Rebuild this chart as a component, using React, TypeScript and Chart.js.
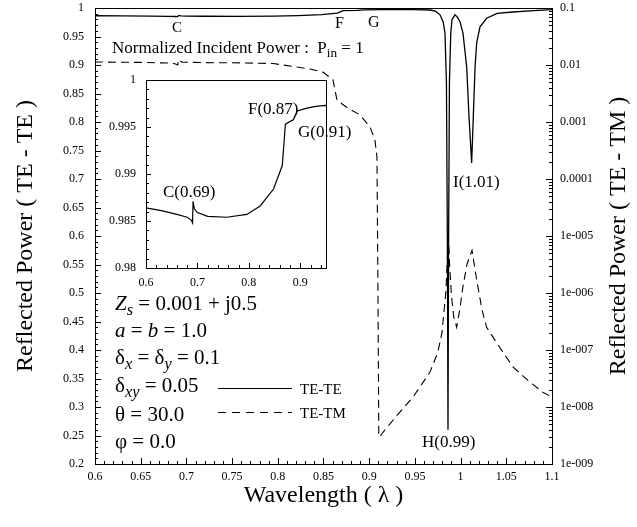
import React, { useEffect, useRef } from 'react';
import { Chart, registerables } from 'chart.js';

Chart.register(...registerables);

const FONT = '"Liberation Serif", "DejaVu Serif", serif';

// ---- Data ----
const teTeWavelength = [
  0.6, 0.63, 0.66, 0.68, 0.688, 0.6905, 0.6915, 0.694, 0.7, 0.72, 0.757, 0.796, 0.822, 0.848,
  0.865, 0.869, 0.871, 0.887, 0.894, 0.913, 0.93, 0.949, 0.9665, 0.9725, 0.9775, 0.981, 0.9829,
  0.9845, 0.9855, 0.9862, 0.9869, 0.9878, 0.9892, 0.9906, 0.9939, 0.9965, 0.9993, 1.0026, 1.0067,
  1.0092, 1.0121, 1.0139, 1.0158, 1.0176, 1.0212, 1.0285, 1.04, 1.057, 1.08, 1.1,
];
const teTePower = [
  0.9864, 0.9861, 0.9857, 0.9854, 0.9851, 0.9848, 0.9871, 0.9863, 0.9859, 0.9855, 0.9854, 0.9857,
  0.9866, 0.9884, 0.9909, 0.9938, 0.9953, 0.9958, 0.9967, 0.997, 0.9972, 0.9973, 0.9965, 0.9945,
  0.988, 0.975, 0.956, 0.87, 0.6, 0.26, 0.6, 0.87, 0.955, 0.98, 0.988, 0.984, 0.976, 0.956, 0.896,
  0.809, 0.728, 0.809, 0.896, 0.939, 0.967, 0.982, 0.9905, 0.993, 0.9955, 0.997,
];
const teTmWavelength = [
  0.6, 0.65, 0.685, 0.6895, 0.6905, 0.6915, 0.695, 0.72, 0.76, 0.795, 0.815, 0.835, 0.8494, 0.8604,
  0.8626, 0.8648, 0.8757, 0.8899, 0.9009, 0.9063, 0.9085, 0.9096, 0.9105, 0.913, 0.9151, 0.93,
  0.948, 0.9665, 0.975, 0.9796, 0.984, 0.9855, 0.9865, 0.988, 0.99, 0.9925, 0.9957, 0.999, 1.0026,
  1.007, 1.0125, 1.0176, 1.0235, 1.0285, 1.0395, 1.0575, 1.075, 1.0903, 1.1,
];
const teTmPower = [
  1.13e-2, 1.11e-2, 1.08e-2, 1.02e-2, 1.0e-2, 1.25e-2, 1.12e-2, 1.1e-2, 1.09e-2, 1.06e-2, 9.5e-3,
  8.5e-3, 7.5e-3, 5.5e-3, 3.6e-3, 2.4e-3, 1.8e-3, 1.33e-3, 8.2e-4, 4.8e-4, 2.4e-4, 1e-6, 3e-9,
  3.2e-9, 3.6e-9, 7e-9, 1.5e-8, 4.1e-8, 9e-8, 2e-7, 1.1e-6, 4e-6, 1.1e-5, 3e-6, 9e-7, 3.8e-7,
  2.5e-7, 5e-7, 1.3e-6, 3.2e-6, 5.6e-6, 1.7e-6, 5e-7, 2.5e-7, 1.33e-7, 5e-8, 2.8e-8, 1.8e-8, 1.5e-8,
];

// ---- Tick values / labels ----
const xTickValues = [0.6, 0.65, 0.7, 0.75, 0.8, 0.85, 0.9, 0.95, 1, 1.05, 1.1];
const xTickLabels = ['0.6', '0.65', '0.7', '0.75', '0.8', '0.85', '0.9', '0.95', '1', '1.05', '1.1'];
const leftTickValues = [0.2, 0.25, 0.3, 0.35, 0.4, 0.45, 0.5, 0.55, 0.6, 0.65, 0.7, 0.75, 0.8, 0.85, 0.9, 0.95, 1];
const leftTickLabels = ['0.2', '0.25', '0.3', '0.35', '0.4', '0.45', '0.5', '0.55', '0.6', '0.65', '0.7', '0.75', '0.8', '0.85', '0.9', '0.95', '1'];
const rightTickValues = [1e-9, 1e-8, 1e-7, 1e-6, 1e-5, 1e-4, 1e-3, 1e-2, 1e-1];
const rightTickLabels = ['1e-009', '1e-008', '1e-007', '1e-006', '1e-005', '0.0001', '0.001', '0.01', '0.1'];
const insetXTickValues = [0.6, 0.7, 0.8, 0.9];
const insetXTickLabels = ['0.6', '0.7', '0.8', '0.9'];
const insetYTickValues = [0.98, 0.985, 0.99, 0.995, 1];
const insetYTickLabels = ['0.98', '0.985', '0.99', '0.995', '1'];

const leftTitle = 'Reflected Power ( TE - TE )';
const rightTitle = 'Reflected Power ( TE - TM )';
const xTitle = 'Wavelength ( λ )';

function range(start: number, end: number, step: number) {
  const out: number[] = [];
  const n = Math.round((end - start) / step);
  for (let i = 0; i <= n; i++) out.push(+(start + i * step).toFixed(6));
  return out;
}
function logMinors(fromExp: number, toExp: number) {
  const out: number[] = [];
  for (let k = fromExp; k < toExp; k++) for (let m = 2; m <= 9; m++) out.push(m * Math.pow(10, k));
  return out;
}

type TickSpec = { scale: string; side: 'bottom' | 'left' | 'right'; major: number[]; minor: number[]; majorLen: number; minorLen: number };

function makeTickPlugin(specs: TickSpec[]) {
  return {
    id: 'inwardTicks',
    afterDraw(chart: any) {
      const { ctx, chartArea: a } = chart;
      ctx.save();
      ctx.strokeStyle = '#000';
      ctx.lineWidth = 1;
      ctx.beginPath();
      for (const s of specs) {
        const sc = chart.scales[s.scale];
        const draw = (v: number, len: number) => {
          const p = Math.round(sc.getPixelForValue(v)) + 0.5;
          if (s.side === 'bottom') { ctx.moveTo(p, a.bottom); ctx.lineTo(p, a.bottom - len); }
          else if (s.side === 'left') { ctx.moveTo(a.left, p); ctx.lineTo(a.left + len, p); }
          else { ctx.moveTo(a.right, p); ctx.lineTo(a.right - len, p); }
        };
        s.minor.forEach((v) => draw(v, s.minorLen));
        s.major.forEach((v) => draw(v, s.majorLen));
      }
      ctx.stroke();
      ctx.strokeRect(Math.round(a.left) + 0.5, Math.round(a.top) + 0.5, Math.round(a.right - a.left), Math.round(a.bottom - a.top));
      ctx.restore();
    },
  };
}

type Run = { t: string; i?: boolean; sub?: boolean; b?: boolean };
function drawRuns(ctx: CanvasRenderingContext2D, runs: Run[], x: number, y: number, size: number) {
  let cx = x;
  for (const r of runs) {
    const s = r.sub ? size * 0.78 : size;
    ctx.font = `${r.i ? 'italic ' : ''}${r.b ? 'bold ' : ''}${s}px ${FONT}`;
    ctx.fillText(r.t, cx, y + (r.sub ? size * 0.22 : 0));
    cx += ctx.measureText(r.t).width;
  }
}

const mainTextPlugin = {
  id: 'mainText',
  afterDraw(chart: any) {
    const ctx: CanvasRenderingContext2D = chart.ctx;
    ctx.save();
    ctx.fillStyle = '#000';
    ctx.strokeStyle = '#000';
    ctx.textAlign = 'left';
    ctx.textBaseline = 'alphabetic';
    drawRuns(ctx, [{ t: 'C' }], 172, 32, 15);
    drawRuns(ctx, [{ t: 'F' }], 335, 28, 16);
    drawRuns(ctx, [{ t: 'G' }], 368, 27, 16);
    drawRuns(ctx, [{ t: 'Normalized Incident Power :  P' }, { t: 'in', sub: true }, { t: ' = 1' }], 112, 53, 17);
    drawRuns(ctx, [{ t: 'I(1.01)' }], 453, 187, 17);
    drawRuns(ctx, [{ t: 'H(0.99)' }], 422, 447, 17);

    const size = 21;
    drawRuns(ctx, [{ t: 'Z', i: true }, { t: 's', i: true, sub: true }, { t: ' = 0.001 + j0.5' }], 115, 310, size);
    drawRuns(ctx, [{ t: 'a', i: true }, { t: ' = ' }, { t: 'b', i: true }, { t: ' = 1.0' }], 115, 337, size);
    drawRuns(ctx, [{ t: 'δ' }, { t: 'x', i: true, sub: true }, { t: ' = δ' }, { t: 'y', i: true, sub: true }, { t: ' = 0.1' }], 115, 364, size);
    drawRuns(ctx, [{ t: 'δ' }, { t: 'xy', i: true, sub: true }, { t: ' = 0.05' }], 115, 392, size);
    drawRuns(ctx, [{ t: 'θ = 30.0' }], 115, 421, size);
    drawRuns(ctx, [{ t: 'φ = 0.0' }], 115, 448, size);

    // legend
    ctx.lineWidth = 1.2;
    ctx.beginPath(); ctx.moveTo(218, 388.5); ctx.lineTo(292, 388.5); ctx.stroke();
    ctx.lineWidth = 1;
    ctx.setLineDash([8, 6]);
    ctx.beginPath(); ctx.moveTo(218, 412.5); ctx.lineTo(292, 412.5); ctx.stroke();
    ctx.setLineDash([]);
    drawRuns(ctx, [{ t: 'TE-TE' }], 300, 394, 15);
    drawRuns(ctx, [{ t: 'TE-TM' }], 300, 418, 15);

    // right axis title (reads bottom-to-top)
    ctx.translate(619, 236);
    ctx.rotate(-Math.PI / 2);
    ctx.textAlign = 'center';
    ctx.textBaseline = 'middle';
    ctx.font = `24px ${FONT}`;
    ctx.fillText(rightTitle, 0, 0);
    ctx.restore();
  },
};

const INSET_LEFT = 100;
const INSET_TOP = 70;

const insetTextPlugin = {
  id: 'insetText',
  afterDraw(chart: any) {
    const ctx: CanvasRenderingContext2D = chart.ctx;
    ctx.save();
    ctx.fillStyle = '#000';
    ctx.textAlign = 'left';
    ctx.textBaseline = 'alphabetic';
    drawRuns(ctx, [{ t: 'C(0.69)' }], 163 - INSET_LEFT, 197 - INSET_TOP, 17);
    drawRuns(ctx, [{ t: 'F(0.87)' }], 248 - INSET_LEFT, 114 - INSET_TOP, 17);
    drawRuns(ctx, [{ t: 'G(0.91)' }], 298 - INSET_LEFT, 137 - INSET_TOP, 17);
    ctx.restore();
  },
};

const tickFont = { family: FONT, size: 12 };
// label offset through (hidden) tick length so that it does not enlarge the top padding
const hiddenGrid = (len: number) => ({ display: false, drawTicks: true, tickLength: len });

export default function App() {
  const mainRef = useRef<HTMLCanvasElement | null>(null);
  const insetRef = useRef<HTMLCanvasElement | null>(null);

  useEffect(() => {
    document.body.style.margin = '0';
    const teTe = teTeWavelength.map((x, i) => ({ x, y: teTePower[i] }));
    const teTm = teTmWavelength.map((x, i) => ({ x, y: teTmPower[i] }));

    const mainTicks = makeTickPlugin([
      { scale: 'x', side: 'bottom', major: xTickValues, minor: range(0.6, 1.1, 0.01), majorLen: 6, minorLen: 3 },
      { scale: 'y', side: 'left', major: leftTickValues, minor: range(0.2, 1, 0.01), majorLen: 6, minorLen: 3 },
      { scale: 'y2', side: 'right', major: rightTickValues, minor: logMinors(-9, -1), majorLen: 6, minorLen: 3 },
    ]);

    const main = new Chart(mainRef.current!, {
      type: 'line',
      data: {
        datasets: [
          { label: 'TE-TE', data: teTe, yAxisID: 'y', borderColor: '#000', borderWidth: 1.3, pointRadius: 0, tension: 0, fill: false },
          { label: 'TE-TM', data: teTm, yAxisID: 'y2', borderColor: '#000', borderWidth: 1.1, borderDash: [8, 5], pointRadius: 0, tension: 0, fill: false },
        ],
      },
      options: {
        responsive: false,
        animation: false,
        devicePixelRatio: 1,
        layout: { padding: { top: 8, left: 0, right: 0, bottom: 0 } },
        plugins: { legend: { display: false }, tooltip: { enabled: false } },
        scales: {
          x: {
            type: 'linear', position: 'bottom', min: 0.6, max: 1.1,
            afterFit: (s: any) => { s.height = 63; },
            afterBuildTicks: (s: any) => { s.ticks = xTickValues.map((v) => ({ value: v })); },
            ticks: { callback: (_v: any, i: number) => xTickLabels[i], font: tickFont, color: '#000', padding: 0, autoSkip: false, maxRotation: 0 },
            grid: hiddenGrid(6),
            border: { display: false },
            title: { display: true, text: xTitle, color: '#000', font: { family: FONT, size: 24 }, padding: { top: 0, bottom: 17 } },
          },
          y: {
            type: 'linear', position: 'left', min: 0.2, max: 1,
            afterFit: (s: any) => { s.width = 95; },
            afterBuildTicks: (s: any) => { s.ticks = leftTickValues.map((v) => ({ value: v })); },
            ticks: { callback: (_v: any, i: number) => leftTickLabels[i], font: tickFont, color: '#000', padding: 0, autoSkip: false },
            grid: hiddenGrid(11),
            border: { display: false },
            title: { display: true, text: leftTitle, color: '#000', font: { family: FONT, size: 24 }, padding: { top: 11, bottom: 0 } },
          },
          y2: {
            type: 'logarithmic', position: 'right', min: 1e-9, max: 0.1,
            afterFit: (s: any) => { s.width = 85; },
            afterBuildTicks: (s: any) => { s.ticks = rightTickValues.map((v) => ({ value: v })); },
            ticks: { callback: (_v: any, i: number) => rightTickLabels[i], font: tickFont, color: '#000', padding: 0, autoSkip: false },
            grid: hiddenGrid(8),
            border: { display: false },
          },
        },
      },
      plugins: [mainTicks, mainTextPlugin],
    } as any);

    const insetTicks = makeTickPlugin([
      { scale: 'x', side: 'bottom', major: insetXTickValues, minor: range(0.6, 0.94, 0.02), majorLen: 5, minorLen: 3 },
      { scale: 'y', side: 'left', major: insetYTickValues, minor: range(0.98, 1, 0.001), majorLen: 5, minorLen: 3 },
    ]);

    const inset = new Chart(insetRef.current!, {
      type: 'line',
      data: {
        datasets: [
          { label: 'TE-TE', data: teTe, borderColor: '#000', borderWidth: 1.2, pointRadius: 0, tension: 0, fill: false },
        ],
      },
      options: {
        responsive: false,
        animation: false,
        devicePixelRatio: 1,
        layout: { padding: { top: 10, left: 0, right: 34, bottom: 0 } },
        plugins: { legend: { display: false }, tooltip: { enabled: false } },
        scales: {
          x: {
            type: 'linear', min: 0.6, max: 0.95,
            afterFit: (s: any) => { s.height = 27; },
            afterBuildTicks: (s: any) => { s.ticks = insetXTickValues.map((v) => ({ value: v })); },
            ticks: { callback: (_v: any, i: number) => insetXTickLabels[i], font: tickFont, color: '#000', padding: 0, autoSkip: false, maxRotation: 0 },
            grid: hiddenGrid(8),
            border: { display: false },
          },
          y: {
            type: 'linear', min: 0.98, max: 1,
            afterFit: (s: any) => { s.width = 46; },
            afterBuildTicks: (s: any) => { s.ticks = insetYTickValues.map((v) => ({ value: v })); },
            ticks: { callback: (_v: any, i: number) => insetYTickLabels[i], font: tickFont, color: '#000', padding: 0, autoSkip: false },
            grid: hiddenGrid(10),
            border: { display: false },
          },
        },
      },
      plugins: [insetTicks, insetTextPlugin],
    } as any);

    return () => {
      main.destroy();
      inset.destroy();
    };
  }, []);

  return (
    <div style={{ position: 'absolute', left: 0, top: 0, width: 637, height: 527, background: '#fff' }}>
      <canvas ref={mainRef} width={637} height={527} style={{ position: 'absolute', left: 0, top: 0, width: 637, height: 527 }} />
      <canvas ref={insetRef} width={260} height={225} style={{ position: 'absolute', left: INSET_LEFT, top: INSET_TOP, width: 260, height: 225 }} />
    </div>
  );
}
